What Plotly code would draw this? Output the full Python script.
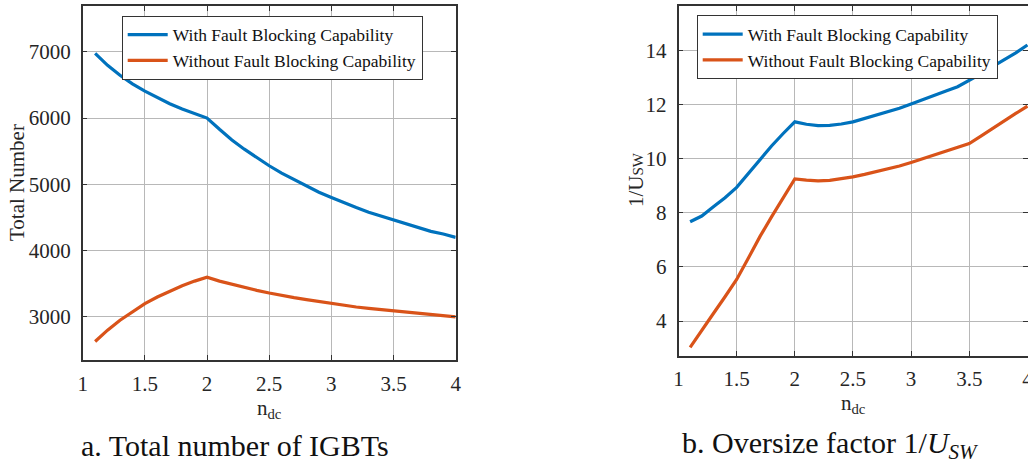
import plotly.graph_objects as go

# ---- data ----
n_dc = [1.1, 1.2, 1.3, 1.4, 1.5, 1.6, 1.7, 1.8, 1.9, 2.0,
        2.1, 2.2, 2.3, 2.4, 2.5, 2.6, 2.7, 2.8, 2.9, 3.0,
        3.1, 3.2, 3.3, 3.4, 3.5, 3.6, 3.7, 3.8, 3.9, 4.0]

total_with = [6975, 6795, 6645, 6515, 6405, 6305, 6215, 6135, 6065, 6000,
              5830, 5670, 5530, 5400, 5280, 5170, 5070, 4970, 4880, 4800,
              4720, 4650, 4580, 4520, 4460, 4400, 4350, 4290, 4250, 4200]
total_without = [2630, 2800, 2950, 3080, 3200, 3300, 3390, 3470, 3540, 3600,
                 3540, 3490, 3440, 3400, 3360, 3320, 3290, 3260, 3230, 3200,
                 3170, 3150, 3130, 3110, 3090, 3070, 3050, 3030, 3020, 3000]

usw_with = [7.67, 7.88, 8.22, 8.56, 8.94, 9.46, 9.97, 10.47, 10.93, 11.36,
            11.27, 11.22, 11.23, 11.28, 11.36, 11.48, 11.60, 11.73, 11.86, 12.02,
            12.19, 12.33, 12.50, 12.66, 12.88, 13.13, 13.40, 13.64, 13.91, 14.20]
usw_without = [3.03, 3.63, 4.28, 4.90, 5.54, 6.32, 7.12, 7.85, 8.57, 9.25,
               9.21, 9.18, 9.20, 9.26, 9.33, 9.42, 9.52, 9.62, 9.73, 9.86,
               10.00, 10.12, 10.26, 10.40, 10.56, 10.83, 11.12, 11.40, 11.67, 11.94]

name_with = "With Fault Blocking Capability"
name_without = "Without Fault Blocking Capability"
x_ticks = [1, 1.5, 2, 2.5, 3, 3.5, 4]
x_ticktext = ["1", "1.5", "2", "2.5", "3", "3.5", "4"]
y1_ticks = [3000, 4000, 5000, 6000, 7000]
y2_ticks = [4, 6, 8, 10, 12, 14]

BLUE = "#0072BD"
ORANGE = "#D95319"
FONT = "Liberation Serif, Times New Roman, serif"
W, H = 1028, 466

fig = go.Figure()
fig.add_trace(go.Scatter(x=n_dc, y=total_with, mode="lines", name=name_with,
                         line=dict(color=BLUE, width=3.2), xaxis="x", yaxis="y", legend="legend"))
fig.add_trace(go.Scatter(x=n_dc, y=total_without, mode="lines", name=name_without,
                         line=dict(color=ORANGE, width=3.2), xaxis="x", yaxis="y", legend="legend"))
fig.add_trace(go.Scatter(x=n_dc, y=usw_with, mode="lines", name=name_with,
                         line=dict(color=BLUE, width=3.2), xaxis="x2", yaxis="y2", legend="legend2"))
fig.add_trace(go.Scatter(x=n_dc, y=usw_without, mode="lines", name=name_without,
                         line=dict(color=ORANGE, width=3.2), xaxis="x2", yaxis="y2", legend="legend2"))

axis_common = dict(showgrid=True, gridcolor="#b8b8b8", gridwidth=1.2,
                   showline=True, linecolor="#333333", linewidth=1.5,
                   mirror="ticks", ticks="inside", ticklen=5, tickcolor="#333333",
                   tickfont=dict(family=FONT, size=21, color="#262626"),
                   zeroline=False, automargin=False)

fig.update_layout(
    width=W, height=H,
    margin=dict(l=0, r=0, t=0, b=0),
    paper_bgcolor="white", plot_bgcolor="white",
    font=dict(family=FONT, color="#262626"),
    xaxis=dict(domain=[82.7 / W, 455.7 / W], range=[1, 4], anchor="y",
               tickvals=x_ticks, ticktext=x_ticktext, ticklabelstandoff=4,
               **axis_common),
    yaxis=dict(domain=[1 - 360 / H, 1 - 6 / H], range=[2350, 7690], anchor="x",
               tickvals=y1_ticks, ticklabelstandoff=6,
               **axis_common),
    xaxis2=dict(domain=[678.5 / W, 1.0], range=[1, 4.005], anchor="y2",
                tickvals=x_ticks, ticktext=x_ticktext, ticklabelstandoff=3,
                ticklabeloverflow="allow",
                **axis_common),
    yaxis2=dict(domain=[1 - 356 / H, 1 - 6 / H], range=[2.71, 15.64], anchor="x2",
                tickvals=y2_ticks, ticklabelstandoff=6,
                **axis_common),
    legend=dict(x=121.7 / W, y=1 - 15.7 / H, xanchor="left", yanchor="top",
                bgcolor="white", bordercolor="#333333", borderwidth=1,
                font=dict(family=FONT, size=17.5, color="#111111"),
                tracegroupgap=0, itemwidth=40),
    legend2=dict(x=696.7 / W, y=1 - 15.3 / H, xanchor="left", yanchor="top",
                 bgcolor="white", bordercolor="#333333", borderwidth=1,
                 font=dict(family=FONT, size=17.5, color="#111111"),
                 tracegroupgap=0, itemwidth=40),
    showlegend=True,
    annotations=[
        # axis titles
        dict(text="n<sub>dc</sub>", xref="paper", yref="paper",
             x=269 / W, y=1 - 409 / H, xanchor="center", yanchor="middle", showarrow=False,
             font=dict(family=FONT, size=21, color="#262626")),
        dict(text="n<sub>dc</sub>", xref="paper", yref="paper",
             x=853 / W, y=1 - 404 / H, xanchor="center", yanchor="middle", showarrow=False,
             font=dict(family=FONT, size=21, color="#262626")),
        dict(text="Total Number", xref="paper", yref="paper", textangle=-90,
             x=17 / W, y=1 - 183 / H, xanchor="center", yanchor="middle", showarrow=False,
             font=dict(family=FONT, size=21, color="#262626")),
        dict(text="1/U<span style='font-size:15px'>SW</span>", xref="paper", yref="paper",
             textangle=-90,
             x=636 / W, y=1 - 180 / H, xanchor="center", yanchor="middle", showarrow=False,
             font=dict(family=FONT, size=21, color="#262626")),
        # captions
        dict(text="a. Total number of IGBTs", xref="paper", yref="paper",
             x=235 / W, y=1 - 445 / H, xanchor="center", yanchor="middle", showarrow=False,
             font=dict(family=FONT, size=30, color="#111111")),
        dict(text="b. Oversize factor 1/<i>U<sub>SW</sub></i>", xref="paper", yref="paper",
             x=830 / W, y=1 - 445 / H, xanchor="center", yanchor="middle", showarrow=False,
             font=dict(family=FONT, size=30, color="#111111")),
    ],
)

fig.write_html("out.html")
